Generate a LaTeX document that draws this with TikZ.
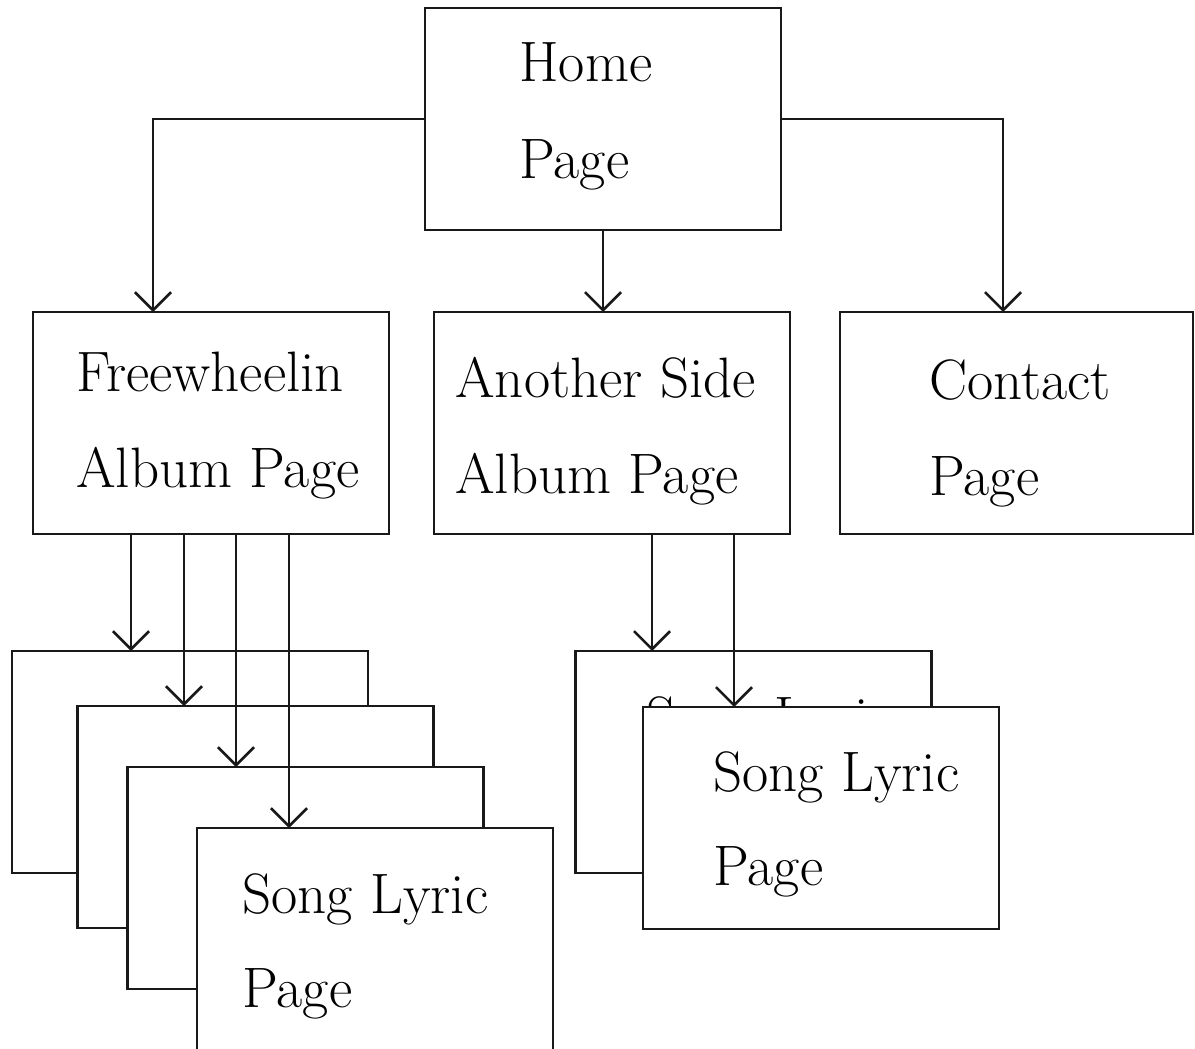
\documentclass[tikz,border=0pt]{standalone}
\usetikzlibrary{arrows.meta,calc}
\begin{document}
\begin{tikzpicture}[x=0.5pt,y=-0.5pt,
  box/.style={draw=black!90, line width=1.3pt, fill=white, rectangle, inner sep=0pt, outer sep=0pt, minimum width=178pt, minimum height=111pt},
  lbl/.style={anchor=base west, inner sep=0pt, font=\fontsize{28.5}{34}\selectfont},
  arr/.style={draw=black!90, line width=1.3pt, -{Straight Barb[length=9pt,width=18pt,line width=1.3pt]}}]
\useasboundingbox (0,0) rectangle (1195,1049);
\clip (0,0) rectangle (1195,1049);
\fill[white] (0,0) rectangle (1195,1049);
% top levels
\node[box] (home) at (603,119) {};
\node[lbl] (homet1) at (519,81) {Home};
\node[lbl] (homet2) at (519,178) {Page};
\node[box] (fw) at (211,423) {};
\node[lbl] (fwt1) at (76,391) {Freewheelin};
\node[lbl] (fwt2) at (76,487) {Album Page};
\node[box] (as) at (612,423) {};
\node[lbl] (ast1) at (455,397) {Another Side};
\node[lbl] (ast2) at (455,493) {Album Page};
\node[box, minimum width=176.5pt] (ct) at (1016.5,423) {};
\node[lbl] (ctt1) at (929,399) {Contact};
\node[lbl] (ctt2) at (929,495) {Page};
% left stack
\node[box] (l1) at (190,762) {};
\node[box] (l2) at (255.5,817) {};
\node[box] (l3) at (305.5,878) {};
\node[box, minimum height=130pt] (l4) at (375,958) {};
\node[lbl] (l4t1) at (242,913) {Song Lyric};
\node[lbl] (l4t2) at (242,1007) {Page};
% right stack
\node[box] (r1) at (753.5,762) {};
\node[lbl] (r1t1) at (646,736) {Song Lyric};
\node[lbl] (r1t2) at (646,830) {Page};
\node[box] (r2) at (821,818) {};
\node[lbl] (r2t1) at (713,791) {Song Lyric};
\node[lbl] (r2t2) at (713,885) {Page};
% connectors
\draw[arr] (home.west) -| ($(fw.north west)+(120,0)$);
\draw[arr] (home.east) -| ($(ct.north west)+(163,0)$);
\draw[arr] (home.south) -- (home.south |- as.north);
\coordinate (f1) at ($(fw.south west)+(98,0)$);
\coordinate (f2) at ($(fw.south west)+(151,0)$);
\coordinate (f3) at ($(fw.south west)+(203,0)$);
\coordinate (f4) at ($(fw.south west)+(256,0)$);
\draw[arr] (f1) -- (f1 |- l1.north);
\draw[arr] (f2) -- (f2 |- l2.north);
\draw[arr] (f3) -- (f3 |- l3.north);
\draw[arr] (f4) -- (f4 |- l4.north);
\coordinate (a1) at ($(as.south west)+(218,0)$);
\coordinate (a2) at ($(as.south west)+(300,0)$);
\draw[arr] (a1) -- (a1 |- r1.north);
\draw[arr] (a2) -- (a2 |- r2.north);
\end{tikzpicture}
\end{document}
